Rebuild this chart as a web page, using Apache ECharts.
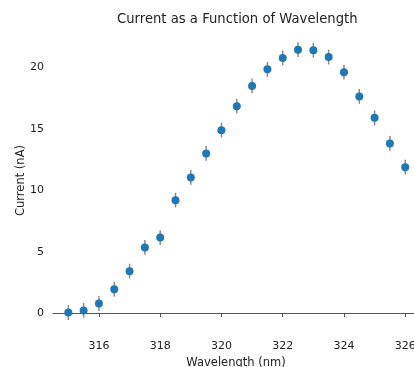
<!DOCTYPE html>
<html>
<head>
<meta charset="utf-8">
<script src="https://cdn.jsdelivr.net/npm/echarts@6/dist/echarts.min.js"></script>
<style>
  html, body { margin: 0; padding: 0; background: #fff; }
  #chart { width: 414px; height: 367px; }
</style>
</head>
<body>
<div id="chart"></div>
<script>
const wavelengths = [315, 315.5, 316, 316.5, 317, 317.5, 318, 318.5, 319, 319.5, 320, 320.5,
  321, 321.5, 322, 322.5, 323, 323.5, 324, 324.5, 325, 325.5, 326]
const currents = [0.05, 0.22, 0.78, 1.95, 3.42, 5.35, 6.15, 9.2, 11.05, 13.0, 14.9, 16.85,
  18.5, 19.85, 20.78, 21.45, 21.4, 20.85, 19.62, 17.65, 15.9, 13.82, 11.88]
const errors = [0.6, 0.6, 0.6, 0.6, 0.6, 0.6, 0.6, 0.6, 0.6, 0.6, 0.6, 0.6,
  0.6, 0.6, 0.6, 0.6, 0.6, 0.6, 0.6, 0.6, 0.6, 0.6, 0.6]
const xTicks = [316, 318, 320, 322, 324, 326]
const yTicks = [0, 5, 10, 15, 20]

const font = 'DejaVu Sans'
const textColor = '#222'

const chart = echarts.init(document.getElementById('chart'))
const points = wavelengths.map((w, i) => [w, currents[i]])
const bars = wavelengths.map((w, i) => [w, currents[i] - errors[i], currents[i] + errors[i]])

chart.setOption({
  animation: false,
  title: {
    text: 'Current as a Function of Wavelength',
    left: 112,
    top: 8,
    textStyle: { fontFamily: font, fontSize: 13.2, fontWeight: 'normal', color: textColor },
  },
  grid: { left: 53, top: 27, width: 366, height: 307, outerBoundsMode: 'none', containLabel: false },
  xAxis: {
    type: 'value',
    min: 314.5,
    max: 326.45,
    name: 'Wavelength (nm)',
    nameLocation: 'middle',
    nameGap: 23,
    nameMoveOverlap: false,
    nameTextStyle: { fontFamily: font, fontSize: 11.5, color: textColor },
    axisLine: { show: true, lineStyle: { color: '#555', width: 1 } },
    axisTick: { show: true, customValues: xTicks, length: 4, lineStyle: { color: '#555' } },
    axisLabel: { customValues: xTicks, fontFamily: font, fontSize: 11, color: textColor, margin: 7 },
    splitLine: { show: false },
  },
  yAxis: {
    type: 'value',
    min: -1.7,
    max: 23.3,
    name: 'Current (nA)',
    nameLocation: 'middle',
    nameGap: 26,
    nameMoveOverlap: false,
    nameTextStyle: { fontFamily: font, fontSize: 11.5, color: textColor },
    axisLine: { show: false },
    axisTick: { show: false },
    axisLabel: { customValues: yTicks, fontFamily: font, fontSize: 11, color: textColor, margin: 9 },
    splitLine: { show: false },
  },
  series: [
    {
      type: 'custom',
      data: bars,
      renderItem(params, api) {
        const top = api.coord([api.value(0), api.value(2)])
        const bottom = api.coord([api.value(0), api.value(1)])
        return {
          type: 'line',
          shape: { x1: top[0], y1: top[1], x2: bottom[0], y2: bottom[1] },
          style: { stroke: '#8a8a8a', lineWidth: 1.5 },
        }
      },
      z: 1,
    },
    {
      type: 'scatter',
      data: points,
      symbol: 'circle',
      symbolSize: 8,
      itemStyle: { color: '#1f77b4', opacity: 1 },
      z: 2,
    },
  ],
})
</script>
</body>
</html>
